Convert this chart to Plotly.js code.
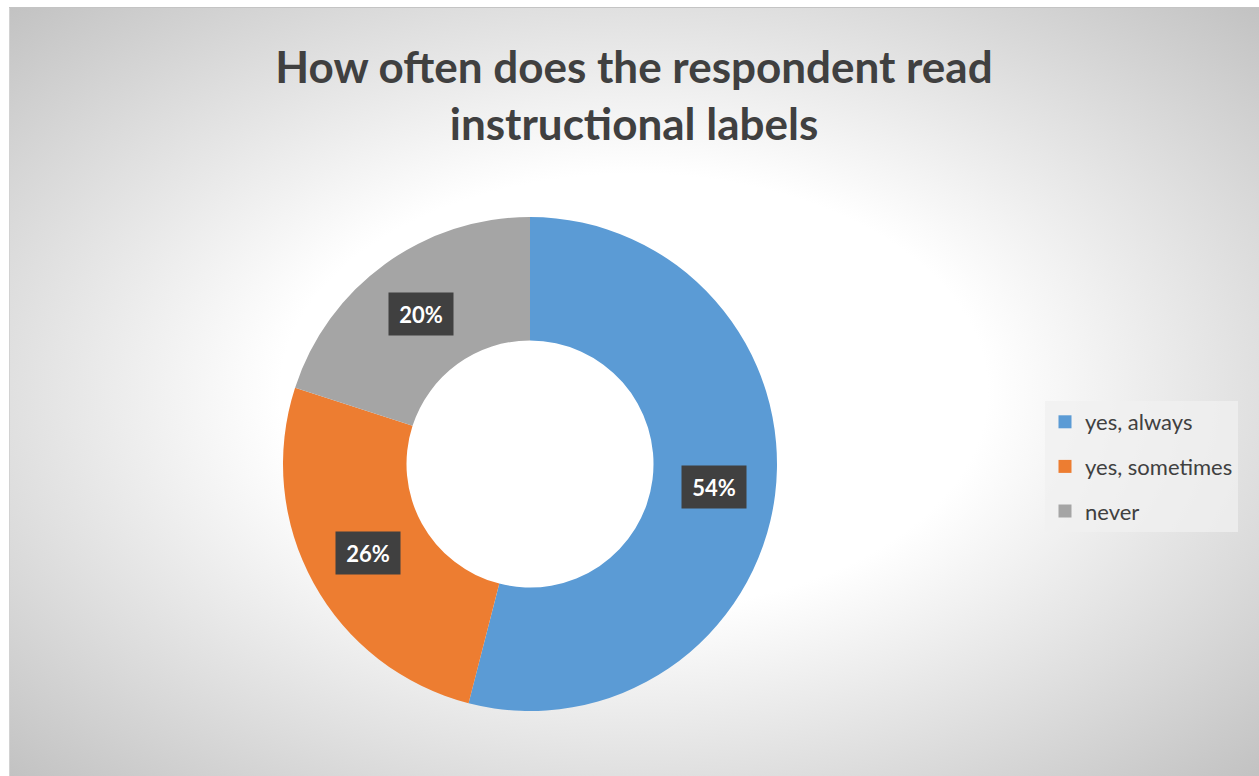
<!DOCTYPE html>
<html>
<head>
<meta charset="utf-8">
<script src="https://cdn.plot.ly/plotly-3.0.1.min.js"></script>
<style>
  html, body { margin: 0; padding: 0; background: #ffffff; }
  #chart {
    width: 1259px; height: 776px;
    background:
      linear-gradient(#c4c4c4, #c4c4c4) 9px 7px / 1250px 1px no-repeat,
      linear-gradient(#d2d2d2, #d2d2d2) 9px 7px / 1px 769px no-repeat,
      radial-gradient(ellipse farthest-corner at 50% 50%, #ffffff 0%, #ffffff 40%, #c2c2c2 100%) 9px 7px / 1250px 769px no-repeat,
      #ffffff;
  }
</style>
</head>
<body>
<div id="chart"></div>
<script>
// ---- data ----
const categories = ['yes, always', 'yes, sometimes', 'never'];
const shares = [54, 26, 20];
const sliceColors = ['#5B9BD5', '#ED7D31', '#A5A5A5'];
const chartTitle = 'How often does the respondent read<br>instructional labels';

// ---- layout constants ----
const W = 1259, H = 776;
const cxPx = 530, cyPx = 464, R = 247, HOLE = 0.5;
const domX = [(cxPx - R) / W, (cxPx + R) / W];
const domY = [(H - cyPx - R) / H, (H - cyPx + R) / H];

const pie = {
  type: 'pie',
  labels: categories,
  values: shares,
  hole: HOLE,
  sort: false,
  direction: 'clockwise',
  rotation: 0,
  marker: { colors: sliceColors, line: { width: 0 } },
  textinfo: 'none',
  hoverinfo: 'label+percent',
  showlegend: false,
  domain: { x: domX, y: domY }
};

// legend entries (one per category, drawn by the legend only)
const legendTraces = categories.map((c, i) => ({
  type: 'scatter', mode: 'markers',
  x: [null], y: [null],
  name: c, legendgroup: 'g' + i,
  marker: { symbol: 'square', size: 13, color: sliceColors[i] },
  hoverinfo: 'skip'
}));

// data labels at the middle of each ring segment
const total = shares.reduce((a, b) => a + b, 0);
let cum = 0;
const annotations = shares.map((v, i) => {
  const mid = (cum + v / 2) / total; cum += v;
  const th = mid * 2 * Math.PI;
  const r = R * (1 + HOLE) / 2;
  const px = cxPx + r * Math.sin(th);
  const py = (H - cyPx) + r * Math.cos(th);
  return {
    x: px / W, y: py / H, xref: 'paper', yref: 'paper',
    xanchor: 'center', yanchor: 'middle',
    text: '<b>' + Math.round(v / total * 100) + '%</b>',
    showarrow: false,
    font: { family: 'Lato, "Open Sans", sans-serif', size: 22, color: '#ffffff' },
    bgcolor: '#404040', width: 56, height: 34, borderpad: 4
  };
});

const layout = {
  width: W, height: H,
  margin: { l: 0, r: 0, t: 0, b: 0 },
  paper_bgcolor: 'rgba(0,0,0,0)',
  plot_bgcolor: 'rgba(0,0,0,0)',
  title: {
    text: '<b>' + chartTitle + '</b>',
    x: 634 / W, xanchor: 'center', xref: 'paper',
    y: 1 - 83 / H, yanchor: 'top', yref: 'container',
    font: { family: 'Lato, "Open Sans", sans-serif', size: 44, color: '#404040' }
  },
  xaxis: { visible: false },
  yaxis: { visible: false },
  showlegend: true,
  legend: {
    x: 1045 / W, xanchor: 'left',
    y: 1 - 466.5 / H, yanchor: 'middle',
    bgcolor: 'rgba(240,240,240,0.75)',
    borderwidth: 0,
    tracegroupgap: 13,
    traceorder: 'grouped',
    font: { family: 'Lato, "Open Sans", sans-serif', size: 22, color: '#404040' }
  },
  annotations: annotations
};

Plotly.newPlot('chart', [pie].concat(legendTraces), layout, { displayModeBar: false, staticPlot: true });
</script>
</body>
</html>
